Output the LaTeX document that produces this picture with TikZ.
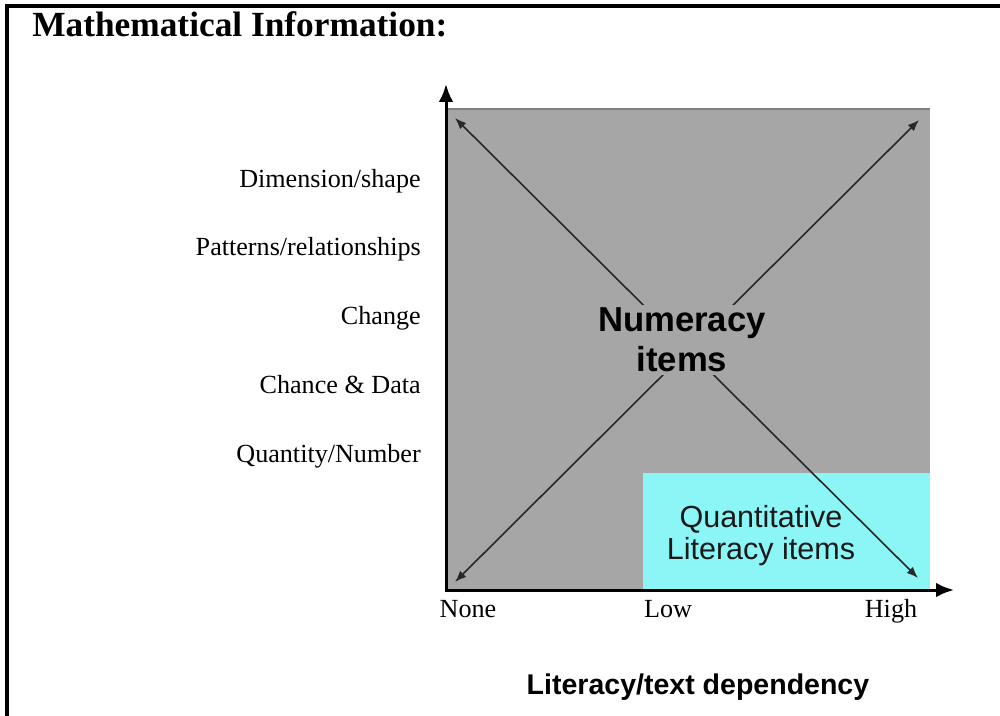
\documentclass[tikz,border=0pt]{standalone}
\usepackage{fontspec}
\setmainfont{Liberation Serif}
\setsansfont{Liberation Sans}
\usetikzlibrary{arrows.meta}
\definecolor{boxgray}{RGB}{166,166,166}
\definecolor{edgegray}{RGB}{128,128,128}
\definecolor{qcyan}{RGB}{140,245,246}
\definecolor{diag}{RGB}{40,40,40}
\tikzset{
  axis/.style={line width=2.25pt, -{Latex[length=13.5pt,width=11pt]}},
  diagarrow/.style={draw=diag, line width=1.2pt, {Latex[length=8.5pt,width=6.5pt]}-{Latex[length=8.5pt,width=6.5pt]}},
  ylab/.style={anchor=base east, font=\fontsize{19.6}{22}\selectfont, inner sep=0pt},
  xlab/.style={anchor=base, font=\fontsize{19.6}{22}\selectfont, inner sep=0pt},
  frameline/.style={line width=2.4pt, black}
}
\begin{document}
\begin{tikzpicture}[x=0.75pt,y=-0.75pt]
\useasboundingbox (0,0) rectangle (1000,716);
% frame
\draw[frameline] (7,716) -- (7,6) -- (1000,6);
% title
\node[anchor=base west, inner sep=0pt, font=\bfseries\fontsize{26.5}{30}\selectfont] (title) at (32,37) {Mathematical Information:};
% gray area
\fill[boxgray] (446,108) rectangle (930,590);
\draw[edgegray, line width=1.5pt] (446,109) -- (930,109);
\fill[qcyan] (643,473) rectangle (930,590);
% diagonals
\coordinate (tl) at (455,118);
\coordinate (br) at (918,578);
\coordinate (tr) at (919,120);
\coordinate (bl) at (455,582);
\draw[diagarrow] (tl) -- (br);
\draw[diagarrow] (bl) -- (tr);
% numeracy label
\node[fill=boxgray, inner sep=2pt, align=center, font=\sffamily\bfseries\fontsize{26}{30}\selectfont] (num) at (682,340) {Numeracy\\items};
% quantitative label
\node[inner sep=0pt, align=center, text={rgb,255:red,25;green,25;blue,25}, font=\sffamily\fontsize{22.9}{24}\selectfont] (quant) at (761,536) {Quantitative\\Literacy items};
% axes
\coordinate (origin) at (446,590);
\coordinate (ytip) at (446,84);
\coordinate (xtip) at (954,590);
\draw[axis] ([yshift=-1.1pt]origin) -- (ytip);
\draw[axis] ([xshift=-1.1pt]origin) -- (xtip);
% y labels
\node[ylab] (dim) at (421,188) {Dimension/shape};
\node[ylab] (pat) at (421,256) {Patterns/relationships};
\node[ylab] (chg) at (421,325) {Change};
\node[ylab] (chd) at (421,394) {Chance \& Data};
\node[ylab] (qty) at (421,463) {Quantity/Number};
% x labels
\node[xlab] (none) at (468,617) {None};
\node[xlab] (low) at (668,617) {Low};
\node[xlab] (high) at (891,617) {High};
\node[anchor=base, inner sep=0pt, font=\sffamily\bfseries\fontsize{21.4}{24}\selectfont] (xtitle) at (698,694) {Literacy/text dependency};
\end{tikzpicture}
\end{document}
